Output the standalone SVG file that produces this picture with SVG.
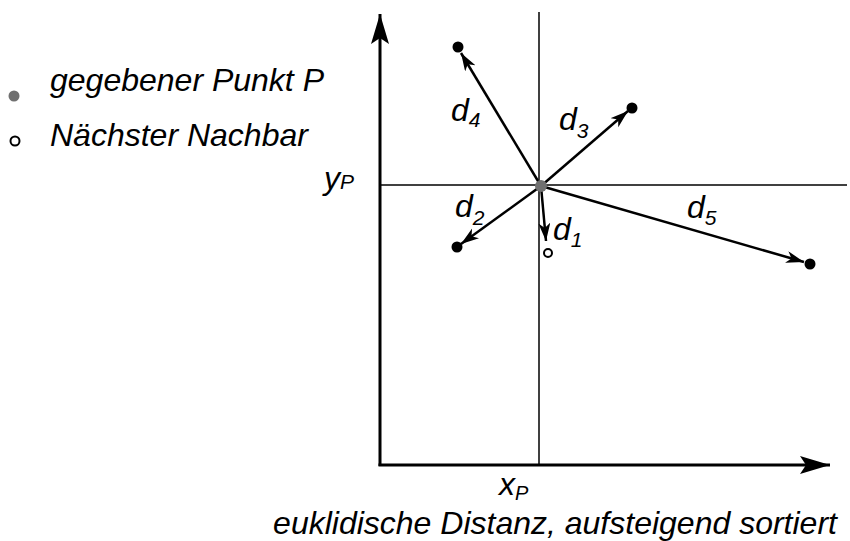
<svg xmlns="http://www.w3.org/2000/svg" width="850" height="541" viewBox="0 0 850 541">
<style>
text{font-family:"Liberation Sans",Arial,sans-serif;font-style:italic;fill:#000}
.big{font-size:32px}
.sub{font-size:21px}
.axis{stroke:#000;stroke-width:3;fill:none}
.thin{stroke:#000;stroke-width:1.5;fill:none}
.arr{stroke:#000;stroke-width:2.5;fill:none;marker-end:url(#ah)}
.pt{fill:#000}
</style>
<defs>
<marker id="ah" markerUnits="userSpaceOnUse" markerWidth="20" markerHeight="14" refX="18" refY="6" orient="auto">
<path d="M0,0 L18,6 L0,12 L5,6 z" fill="#000"/>
</marker>
<marker id="axh" markerUnits="userSpaceOnUse" markerWidth="32" markerHeight="20" refX="30" refY="9" orient="auto">
<path d="M0,0 L30,9 L0,18 L6,9 z" fill="#000"/>
</marker>
</defs>
<g id="legend">
<circle cx="14" cy="96" r="5.5" fill="#707070"/>
<text class="big" x="50" y="91">gegebener Punkt P</text>
<circle cx="15" cy="141" r="4.5" fill="#fff" stroke="#000" stroke-width="2"/>
<text class="big" x="50" y="146">Nächster Nachbar</text>
</g>
<g id="axes">
<line class="thin" x1="539" y1="12" x2="539" y2="465"/>
<line class="thin" x1="380" y1="185" x2="847" y2="185"/>
<path class="axis" d="M380,466 L380,14" marker-end="url(#axh)"/>
<path class="axis" d="M378.5,465 L830,465" marker-end="url(#axh)"/>
</g>
<g id="connectors">
<line class="arr" x1="541" y1="186" x2="461" y2="53"/>
<line class="arr" x1="541" y1="186" x2="628" y2="111"/>
<line class="arr" x1="541" y1="186" x2="461" y2="244"/>
<line class="arr" x1="541" y1="186" x2="546" y2="241"/>
<line class="arr" x1="541" y1="186" x2="804" y2="262"/>
</g>
<g id="points">
<circle class="pt" cx="458" cy="47" r="5.5"/>
<circle class="pt" cx="632" cy="108" r="5.5"/>
<circle class="pt" cx="457" cy="247" r="5.5"/>
<circle class="pt" cx="810" cy="264" r="5.5"/>
<circle cx="548" cy="253" r="4" fill="#fff" stroke="#000" stroke-width="2"/>
<circle cx="541" cy="186" r="6" fill="#707070"/>
</g>
<g id="labels">
<text x="451" y="121"><tspan class="big">d</tspan><tspan class="sub" dy="6">4</tspan></text>
<text x="559" y="130"><tspan class="big">d</tspan><tspan class="sub" dy="8">3</tspan></text>
<text x="455" y="217"><tspan class="big">d</tspan><tspan class="sub" dy="8">2</tspan></text>
<text x="553" y="240"><tspan class="big">d</tspan><tspan class="sub" dy="7">1</tspan></text>
<text x="687" y="218"><tspan class="big">d</tspan><tspan class="sub" dy="7">5</tspan></text>
<text x="324" y="189"><tspan class="big">y</tspan><tspan class="sub" dy="0">P</tspan></text>
<text x="499" y="495"><tspan class="big">x</tspan><tspan class="sub" dy="5" style="font-size:20px">P</tspan></text>
<text class="big" x="555" y="534" text-anchor="middle">euklidische Distanz, aufsteigend sortiert</text>
</g>
</svg>
